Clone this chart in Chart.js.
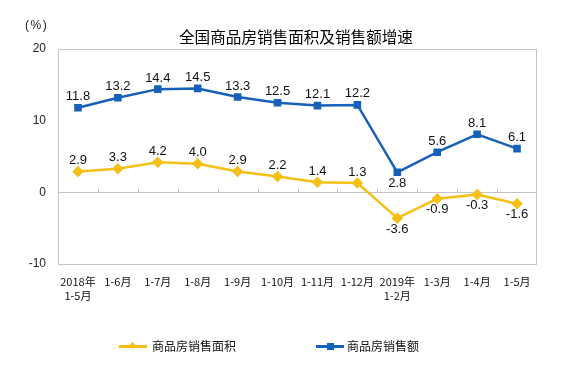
<!DOCTYPE html>
<html><head><meta charset="utf-8">
<script src="https://cdn.jsdelivr.net/npm/chart.js@4"></script>
<style>
html,body{margin:0;padding:0;background:#fff;}
#wrap{position:relative;width:568px;height:377px;overflow:hidden;}
canvas{position:absolute;left:0;top:0;}
.t{position:absolute;white-space:nowrap;color:#000;}
#title{left:179px;top:26px;font:15.6px/20px "Noto Sans CJK SC",sans-serif;}
#unit{left:25px;top:18px;font:12px/14px "Liberation Sans",Arial,sans-serif;letter-spacing:1.5px;color:#222;}
.leg{position:absolute;top:339px;height:14px;width:140px;white-space:nowrap;font:12px/14px "Noto Sans CJK SC",sans-serif;color:#111;}
.leg .ln{position:absolute;top:6px;height:2.5px;width:28px;}
.leg .mk{position:absolute;}
.leg .tx{position:absolute;top:0;white-space:nowrap;}
</style></head>
<body><div id="wrap">
<canvas id="c" width="568" height="377"></canvas>
<div class="t" id="title">全国商品房销售面积及销售额增速</div>
<div class="t" id="unit">(%)</div>
<div class="leg" style="left:119px;">
  <div class="ln" style="left:0;background:#F5BF14;"></div>
  <div class="mk" style="left:11px;top:4px;width:5px;height:5px;background:#F5BF14;transform:rotate(45deg);"></div>
  <div class="tx" style="left:33px;">商品房销售面积</div>
</div>
<div class="leg" style="left:316px;">
  <div class="ln" style="left:0;background:#1760BA;"></div>
  <div class="mk" style="left:11px;top:3.5px;width:7px;height:7px;background:#1760BA;"></div>
  <div class="tx" style="left:31px;">商品房销售额</div>
</div>
</div>
<script>
const categories = [["2018年","1-5月"],"1-6月","1-7月","1-8月","1-9月","1-10月","1-11月","1-12月",["2019年","1-2月"],"1-3月","1-4月","1-5月"];
const areaGrowth = [2.9,3.3,4.2,4.0,2.9,2.2,1.4,1.3,-3.6,-0.9,-0.3,-1.6];
const salesGrowth = [11.8,13.2,14.4,14.5,13.3,12.5,12.1,12.2,2.8,5.6,8.1,6.1];
const yTicks = [-10,0,10,20];
const seriesNames = ["商品房销售面积","商品房销售额"];

const YELLOW = '#F5BF14', BLUE = '#1760BA', FRAME = '#c4c4c4';

const framePlugin = {
  id:'frame',
  beforeDatasetsDraw(chart){
    const {ctx, chartArea:a, scales:{x,y}} = chart;
    ctx.save();
    ctx.strokeStyle = FRAME; ctx.lineWidth = 1;
    ctx.strokeRect(Math.round(a.left)+0.5, Math.round(a.top)+0.5, Math.round(a.right-a.left)-1, Math.round(a.bottom-a.top));
    const y0 = Math.round(y.getPixelForValue(0))+0.5;
    ctx.beginPath();
    for(let i=1;i<categories.length;i++){
      const xb = Math.round((x.getPixelForValue(i-1)+x.getPixelForValue(i))/2)+0.5;
      ctx.moveTo(xb,y0); ctx.lineTo(xb,y0-4);
    }
    ctx.stroke();
    ctx.restore();
  }
};

const labelPlugin = {
  id:'vlabels',
  afterDatasetsDraw(chart){
    const ctx = chart.ctx;
    ctx.save();
    ctx.font = '13px "Liberation Sans", Arial, sans-serif';
    ctx.fillStyle = '#111';
    ctx.textAlign = 'center'; ctx.textBaseline = 'middle';
    chart.data.datasets.forEach((ds,di)=>{
      const meta = chart.getDatasetMeta(di);
      meta.data.forEach((pt,i)=>{
        const below = ds.labelPos[i] === 'below';
        ctx.fillText(ds.data[i].toFixed(1), pt.x, pt.y + (below ? 11 : -11));
      });
    });
    ctx.restore();
  }
};

new Chart(document.getElementById('c'), {
  type:'line',
  data:{
    labels: categories,
    datasets:[
      {label:seriesNames[0], data:areaGrowth, borderColor:YELLOW, backgroundColor:YELLOW,
       borderWidth:2.5, pointStyle:'rectRot', pointRadius:4, pointHoverRadius:4, tension:0,
       labelPos: areaGrowth.map(v => v < 0 ? 'below' : 'above')},
      {label:seriesNames[1], data:salesGrowth, borderColor:BLUE, backgroundColor:BLUE,
       borderWidth:2.5, pointStyle:'rect', pointRadius:3.6, pointHoverRadius:3.6, tension:0,
       labelPos: salesGrowth.map((v,i) => i === 8 ? 'below' : 'above')}
    ]
  },
  options:{
    responsive:false, animation:false, devicePixelRatio:1,
    layout:{padding:{left:0,right:31,top:49,bottom:73}},
    plugins:{legend:{display:false}, title:{display:false}, tooltip:{enabled:false}},
    scales:{
      x:{
        offset:true,
        grid:{display:false, drawTicks:false},
        border:{display:false},
        ticks:{padding:10, color:'#111', maxRotation:0, autoSkip:false,
          font:{family:'"Noto Sans CJK SC", sans-serif', size:11, lineHeight:1.35}},
        afterFit(s){ s.height = 40; }
      },
      y:{
        min:-10, max:20,
        afterBuildTicks(s){ s.ticks = yTicks.map(v=>({value:v})); },
        grid:{drawTicks:false, color:c => c.tick && c.tick.value === 0 ? FRAME : 'rgba(0,0,0,0)'},
        border:{display:false},
        ticks:{padding:12, color:'#222', font:{family:'"Liberation Sans", Arial, sans-serif', size:12}},
        afterFit(s){ s.width = 58; }
      }
    }
  },
  plugins:[framePlugin, labelPlugin]
});
</script>
</body></html>
